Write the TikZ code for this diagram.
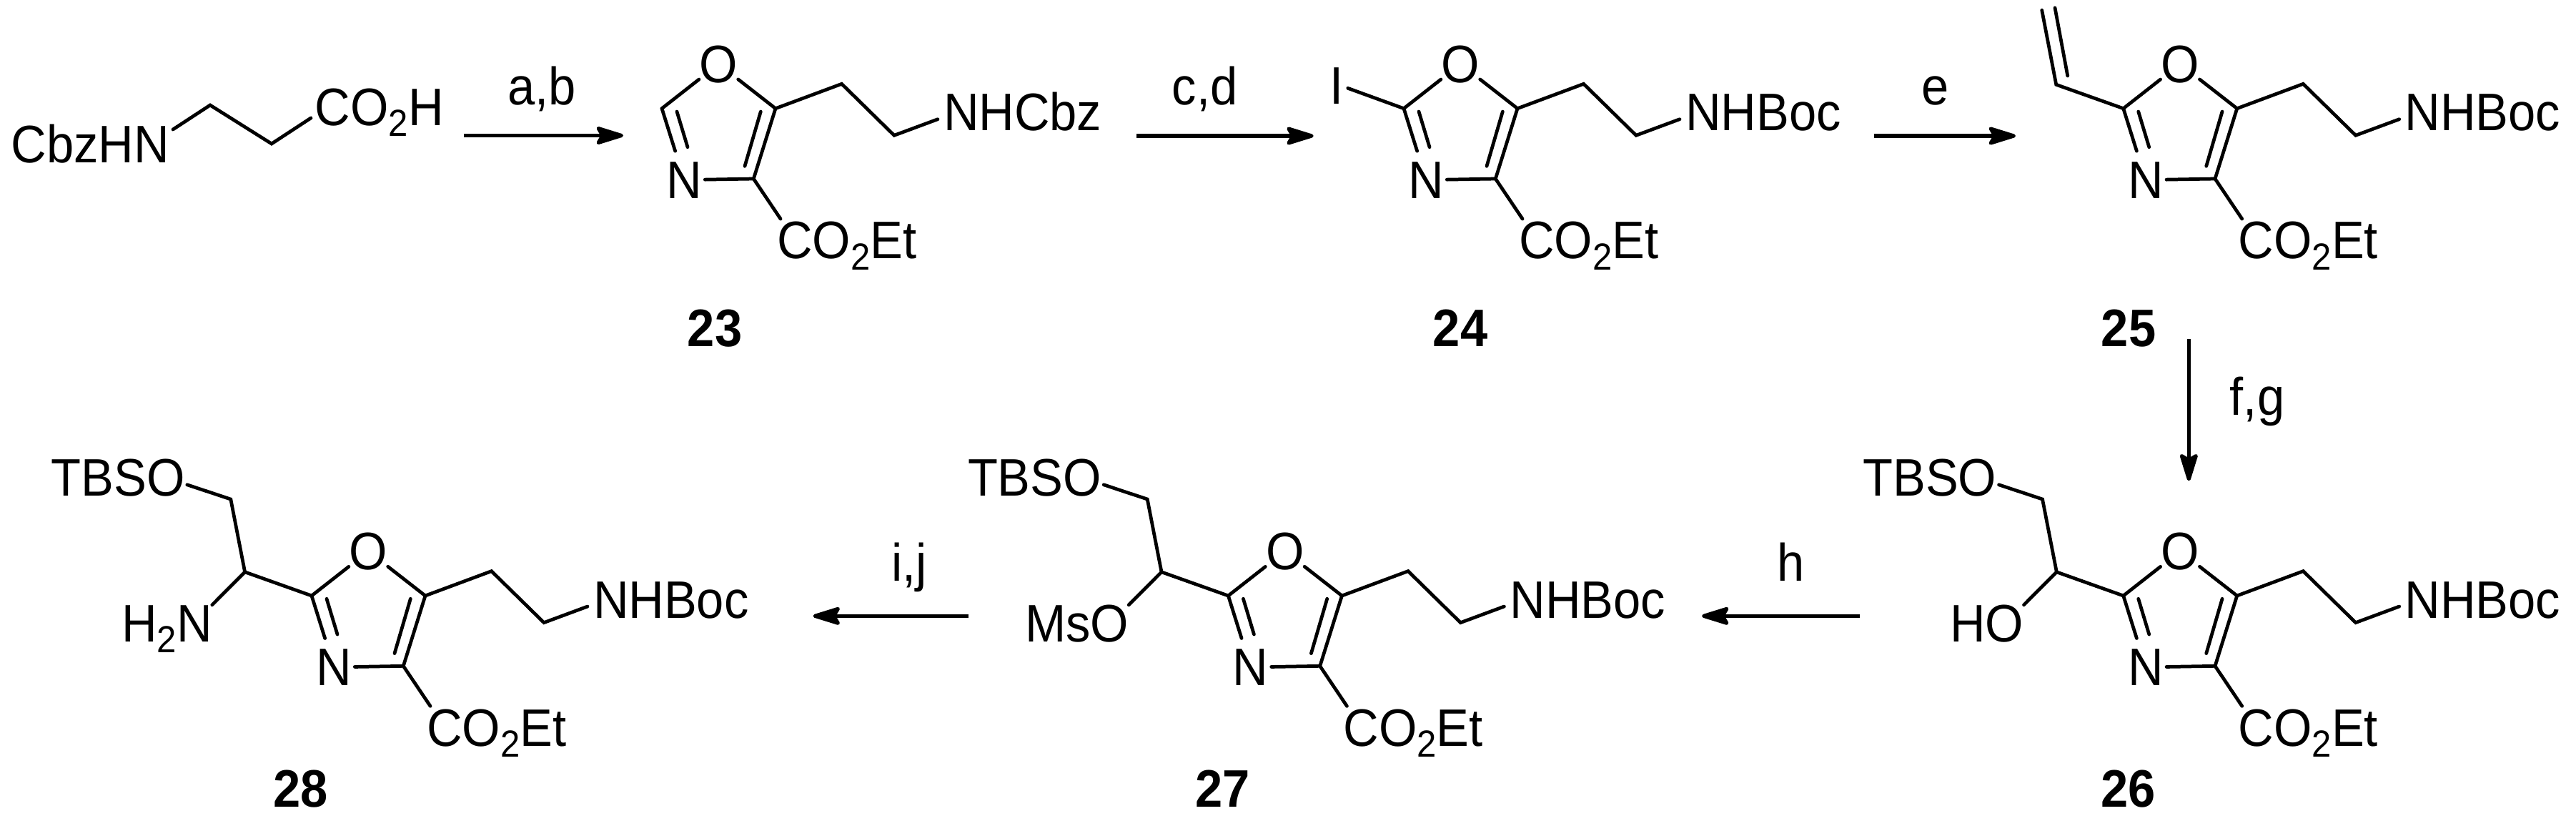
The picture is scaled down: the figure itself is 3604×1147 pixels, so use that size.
\documentclass[tikz,border=0pt]{standalone}
\usepackage{fontspec}
\setmainfont{Liberation Sans}[FakeStretch=0.93]
\usetikzlibrary{arrows.meta}
\tikzset{
	atom/.style={inner sep=0pt,font=\fontsize{21}{24}\selectfont},
	cmpd/.style={atom,anchor=base,font=\fontsize{21}{24}\selectfont\bfseries},
	bond/.style={line width=1.35pt,line cap=round,line join=miter},
	rxn/.style={line width=1.45pt,-{Stealth[length=4.6mm,width=2.8mm,inset=0.8mm,round]}}
}
\newcommand{\subtwo}{\raisebox{-4.5pt}{\fontsize{15}{15}\selectfont 2}}
\newcommand{\oxazole}[4]{
	\begin{scope}[shift={(#2,#3)}]
		\node[atom,anchor=base] (#1o) at (3050,115) {O};
		\node[atom,anchor=base] (#1n) at (3002,277) {N};
		\node[atom,anchor=base west] (#1ester) at (3131,361.7) {CO\subtwo Et};
		\node[atom,anchor=base west] (#1amine) at (3364,182.7) {#4};
		\coordinate (#1c2) at (2970.7,151.7);
		\coordinate (#1c4) at (3099,250);
		\coordinate (#1c5) at (3129.7,151.7);
		\coordinate (#1c6) at (3222.3,117.3);
		\coordinate (#1c7) at (3295.7,189.3);
		\coordinate (#1ce) at (3136.7,306);
		\coordinate (#1ne) at (3356.7,166.7);
		\coordinate (#1da) at (2991.7,156);
		\coordinate (#1db) at (3006.7,205.7);
		\coordinate (#1dc) at (3109,156);
		\coordinate (#1dd) at (3086.7,232.3);
		\draw[bond] (#1c2) -- (#1o);
		\draw[bond] (#1o) -- (#1c5);
		\draw[bond,shorten >=0.15cm] (#1c2) -- (#1n);
		\draw[bond,shorten <=1pt] (#1n) -- (#1c4);
		\draw[bond] (#1c4) -- (#1c5) -- (#1c6) -- (#1c7) -- (#1ne);
		\draw[bond] (#1da) -- (#1db);
		\draw[bond] (#1dc) -- (#1dd);
		\draw[bond] (#1c4) -- (#1ce);
	\end{scope}
}
\newcommand{\sidechain}[4]{
	\begin{scope}[shift={(#2,#3)}]
		\node[atom,anchor=base west] (#1tbso) at (2605.6,693.3) {TBSO};
		\node[atom,anchor=base east] (#1het) at (2832,897) {#4};
		\coordinate (#1to) at (2796.5,677.8);
		\coordinate (#1ch2) at (2857.5,698);
		\coordinate (#1ch) at (2877.3,799.8);
		\coordinate (#1he) at (2831.5,845.8);
		\draw[bond] (#1to) -- (#1ch2) -- (#1ch) -- (#1he);
		\draw[bond] (#1ch) -- (#1c2);
	\end{scope}
}

\begin{document}
\begin{tikzpicture}[x=0.01cm,y=-0.01cm]
	\useasboundingbox (0,0) rectangle (3604,1147);

	\node[atom,anchor=base west] (cbzhn) at (15,227) {CbzHN};
	\node[atom,anchor=base west] (acid) at (440,175) {CO\subtwo H};
	\coordinate (ba) at (242,181); \coordinate (bb) at (294,147); \coordinate (bc) at (380,201); \coordinate (bd) at (435,165);
	\draw[bond] (ba) -- (bb) -- (bc) -- (bd);

	\oxazole{p}{-2044.7}{0}{NHCbz}
	\node[cmpd] (n23) at (1000,484) {23};

	\oxazole{q}{-1006.7}{0}{NHBoc}
	\node[atom,anchor=base] (iodo) at (1870,145) {I};
	\coordinate (qi) at (1885.7,123.3);
	\draw[bond] (qi) -- (qc2);
	\node[cmpd] (n24) at (2043,484) {24};

	\oxazole{r}{0}{0}{NHBoc}
	\coordinate (va) at (2876.7,118.3); \coordinate (vb) at (2856.7,14.3); \coordinate (vc) at (2875,11); \coordinate (vd) at (2892.7,106);
	\draw[bond] (rc2) -- (va) -- (vb);
	\draw[bond] (vc) -- (vd);
	\node[cmpd] (n25) at (2978,484) {25};

	\oxazole{s}{0}{681.3}{NHBoc}
	\sidechain{s}{0}{0}{HO}
	\node[cmpd] (n26) at (2977.5,1128.5) {26};

	\oxazole{t}{-1252.3}{681.3}{NHBoc}
	\sidechain{t}{-1252.3}{0}{MsO}
	\node[cmpd] (n27) at (1710.4,1128.5) {27};

	\oxazole{u}{-2534.7}{681.3}{NHBoc}
	\sidechain{u}{-2534.7}{0}{H\subtwo N}
	\node[cmpd] (n28) at (421,1128.5) {28};

	\coordinate (ab1) at (649,189.5); \coordinate (ab2) at (872,189.5);
	\draw[rxn] (ab1) -- (ab2);
	\node[atom,anchor=base] (abl) at (758,146.5) {a,b};
	\coordinate (cd1) at (1590,190); \coordinate (cd2) at (1837.7,190);
	\draw[rxn] (cd1) -- (cd2);
	\node[atom,anchor=base] (cdl) at (1685.7,146.5) {c,d};
	\coordinate (e1) at (2621.7,190); \coordinate (e2) at (2820,190);
	\draw[rxn] (e1) -- (e2);
	\node[atom,anchor=base] (el) at (2708,146.5) {e};
	\coordinate (fg1) at (3062.3,474); \coordinate (fg2) at (3062.3,672.3);
	\draw[rxn] (fg1) -- (fg2);
	\node[atom,anchor=base] (fgl) at (3158,580) {f,g};
	\coordinate (h1) at (2602,861.3); \coordinate (h2) at (2381,861.3);
	\draw[rxn] (h1) -- (h2);
	\node[atom,anchor=base] (hl) at (2506,812.8) {h};
	\coordinate (ij1) at (1354.9,861.3); \coordinate (ij2) at (1137.6,861.3);
	\draw[rxn] (ij1) -- (ij2);
	\node[atom,anchor=base] (ijl) at (1272,812.8) {i,j};
\end{tikzpicture}
\end{document}
